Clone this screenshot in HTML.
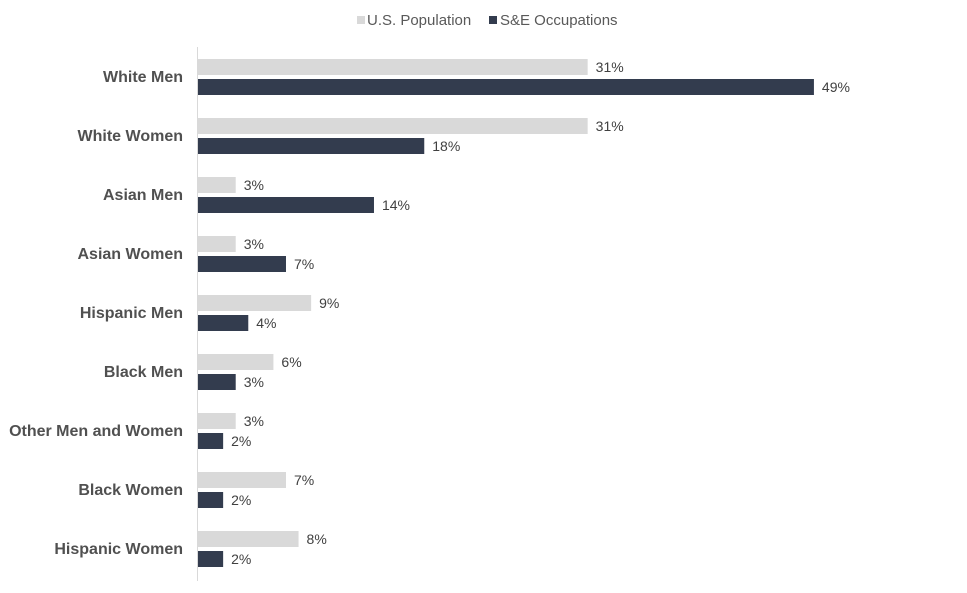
<!DOCTYPE html>
<html><head><meta charset="utf-8"><style>
body{margin:0;background:#fff;font-family:"Liberation Sans",Arial,sans-serif}
</style></head><body>
<svg width="967" height="593" id="c" style="display:block">
<g>
<rect x="357" y="16" width="8" height="8" fill="#d9d9d9"/>
<text x="367" y="25" font-size="15" fill="#595959">U.S. Population</text>
<rect x="489" y="16" width="8" height="8" fill="#333c4e"/>
<text x="500" y="25" font-size="15" fill="#595959">S&amp;E Occupations</text>
</g>
<line x1="197.5" y1="47" x2="197.5" y2="581" stroke="#d9d9d9"/>
<g id="bars"></g>
</svg>
<script>
const categories=["White Men","White Women","Asian Men","Asian Women","Hispanic Men","Black Men","Other Men and Women","Black Women","Hispanic Women"];
const usPopulation=[31,31,3,3,9,6,3,7,8];
const seOccupations=[49,18,14,7,4,3,2,2,2];
const x0=198, pxPer=12.57, rowTop=59, rowStep=59;
const xs=v=>x0+v*pxPer;
const ns="http://www.w3.org/2000/svg";
const g=document.getElementById('bars');
function mk(t,a){const e=document.createElementNS(ns,t);for(const k in a)e.setAttribute(k,a[k]);return e;}
categories.forEach((c,i)=>{
  const y=rowTop+i*rowStep;
  const lab=mk('text',{x:183,y:y+23,'text-anchor':'end','font-size':16,'font-weight':'bold',fill:'#505050'});
  lab.textContent=c;
  
  
  g.appendChild(lab);
  [[usPopulation[i],'#d9d9d9',0,'us-population'],[seOccupations[i],'#333c4e',20,'se-occupations']].forEach(([v,col,off,s])=>{
    const r=mk('rect',{x:x0,y:y+off,width:xs(v)-x0,height:16,fill:col});
    
    
    g.appendChild(r);
    const t=mk('text',{x:xs(v)+8,y:y+off+13,'font-size':14,fill:'#404040'});
    t.textContent=v+'%';
    
    
    g.appendChild(t);
  });
});
</script>
</body></html>
